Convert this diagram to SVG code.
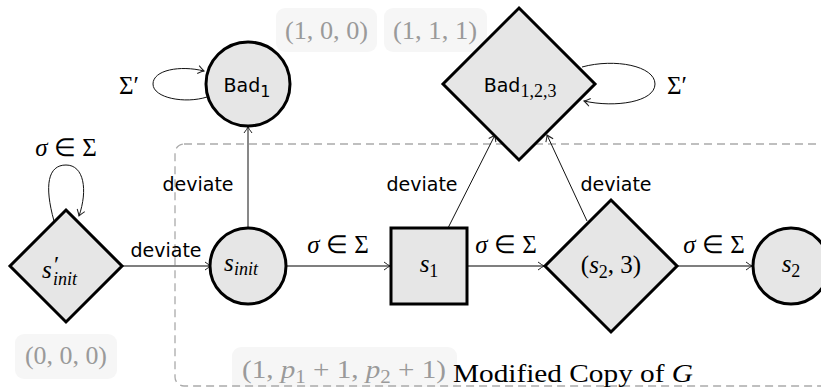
<svg xmlns="http://www.w3.org/2000/svg" width="821" height="387" viewBox="0 0 821 387">
<defs>
<marker id="arr" viewBox="-8 -6 10 12" markerWidth="10" markerHeight="12" refX="0" refY="0" orient="auto" markerUnits="userSpaceOnUse">
<path d="M-6,-4 Q-2,-1 0,0 Q-2,1 -6,4" fill="none" stroke="#222" stroke-width="1"/>
</marker>
<style>
.node{fill:#e6e6e6;stroke:#000;stroke-width:3}
.edge{fill:none;stroke:#555;stroke-width:1.6;marker-end:url(#arr)}
.thin{fill:none;stroke:#111;stroke-width:1;marker-end:url(#arr)}
.math{font-family:"Liberation Serif",serif;font-size:25px;fill:#000}
.mi{font-style:italic}
.sub{font-size:18px}
.sans{font-family:"DejaVu Sans",sans-serif;font-size:19px;fill:#000}
.tag{fill:#f6f6f6;stroke:none}
.tagt{font-family:"Liberation Serif",serif;font-size:25px;fill:#9a9a9a}
</style>
</defs>
<rect x="0" y="0" width="821" height="387" fill="#fff"/>

<g id="tags">
<rect class="tag" x="15" y="334" width="102" height="45" rx="9"/>
<text class="tagt" x="25" y="364" textLength="82" lengthAdjust="spacingAndGlyphs">(0, 0, 0)</text>
<rect class="tag" x="276" y="8" width="101" height="44" rx="9"/>
<text class="tagt" x="285" y="39" textLength="83" lengthAdjust="spacingAndGlyphs">(1, 0, 0)</text>
<rect class="tag" x="384" y="8" width="103" height="44" rx="9"/>
<text class="tagt" x="393" y="39" textLength="84" lengthAdjust="spacingAndGlyphs">(1, 1, 1)</text>
<rect class="tag" x="232" y="347" width="225" height="50" rx="9"/>
<text class="tagt" x="242" y="378" textLength="204" lengthAdjust="spacingAndGlyphs">(1, <tspan font-style="italic">p</tspan><tspan font-size="18" dy="5">1</tspan><tspan dy="-5"> + 1,   </tspan><tspan font-style="italic">p</tspan><tspan font-size="18" dy="5">2</tspan><tspan dy="-5"> + 1)</tspan></text>
</g>

<g id="copy-box">
<rect x="175" y="144" width="700" height="242" rx="9" fill="none" stroke="#aaa" stroke-width="1.3" stroke-dasharray="8 5"/>
<text x="453" y="382" font-family="Liberation Serif,serif" font-size="25" fill="#000" textLength="240" lengthAdjust="spacingAndGlyphs">Modified Copy of <tspan font-style="italic">G</tspan></text>
</g>

<g id="connectors">
<path class="edge" d="M123,266 L211,266"/>
<path class="edge" d="M286,266 L390,266"/>
<path class="edge" d="M467,266 L544,266"/>
<path class="edge" d="M677,266 L752,266"/>
<path class="thin" d="M248,228 L248,127"/>
<path class="thin" d="M448,228 L495,135"/>
<path class="thin" d="M587,221 L547,135"/>
<path class="thin" d="M54,221 C44,185 48,165 66,165 C84,165 88,190 79,216"/>
<path class="thin" d="M207,97 C185,104 153,98 153,84 C153,70 180,65 204,71"/>
<path class="thin" d="M582,67 C615,58 655,66 655,84 C655,102 615,108 584,101"/>
<text class="math" x="66" y="156" text-anchor="middle"><tspan class="mi">σ</tspan> ∈ Σ</text>
<text class="math" x="129" y="94" text-anchor="middle">Σ′</text>
<text class="math" x="677" y="94" text-anchor="middle">Σ′</text>
<text class="sans" x="166" y="257" text-anchor="middle">deviate</text>
<text class="sans" x="198" y="191" text-anchor="middle">deviate</text>
<text class="sans" x="422" y="191" text-anchor="middle">deviate</text>
<text class="sans" x="616" y="191" text-anchor="middle">deviate</text>
<text class="math" x="338" y="253" text-anchor="middle"><tspan class="mi">σ</tspan> ∈ Σ</text>
<text class="math" x="506" y="253" text-anchor="middle"><tspan class="mi">σ</tspan> ∈ Σ</text>
<text class="math" x="714" y="253" text-anchor="middle"><tspan class="mi">σ</tspan> ∈ Σ</text>
</g>

<g id="s-init-prime">
<polygon class="node" points="66,210 122,266 66,322 10,266"/>
<text class="math"><tspan class="mi" x="42" y="278">s</tspan><tspan font-size="24" x="54" y="272">′</tspan><tspan class="mi sub" x="53" y="285">init</tspan></text>
</g>

<g id="s-init">
<circle class="node" cx="248" cy="266" r="38"/>
<text class="math"><tspan class="mi" x="224" y="271">s</tspan><tspan class="mi sub" x="234" y="275">init</tspan></text>
</g>

<g id="bad1">
<circle class="node" cx="248" cy="84" r="42"/>
<text class="sans" x="247" y="92" text-anchor="middle" font-size="22">Bad<tspan font-size="16" dy="5">1</tspan></text>
</g>

<g id="bad123">
<polygon class="node" points="519,8 595,84 519,160 443,84"/>
<text class="sans" x="520" y="92" text-anchor="middle" font-size="22">Bad<tspan font-family="Liberation Serif,serif" font-size="18" dy="5">1,2,3</tspan></text>
</g>

<g id="s1">
<rect class="node" x="391" y="228" width="76" height="76"/>
<text class="math" x="429" y="272" text-anchor="middle"><tspan class="mi">s</tspan><tspan class="sub" dy="5">1</tspan></text>
</g>

<g id="s2-3">
<polygon class="node" points="611,200 677,266 611,332 545,266"/>
<text class="math" x="611" y="273" text-anchor="middle">(<tspan class="mi">s</tspan><tspan class="sub" dy="5">2</tspan><tspan dy="-5">, 3)</tspan></text>
</g>

<g id="s2">
<circle class="node" cx="791" cy="266" r="38"/>
<text class="math" x="791" y="272" text-anchor="middle"><tspan class="mi">s</tspan><tspan class="sub" dy="5">2</tspan></text>
</g>
</svg>
